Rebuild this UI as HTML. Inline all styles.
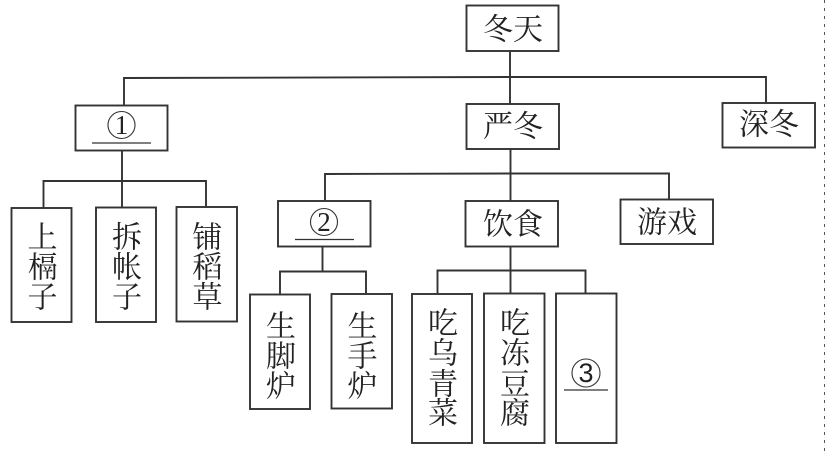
<!DOCTYPE html>
<html lang="zh">
<head>
<meta charset="utf-8">
<style>
html,body{margin:0;padding:0;background:#fff;width:832px;height:453px;overflow:hidden}
svg{display:block}
text{font-family:"Liberation Serif","Noto Serif CJK SC",serif;fill:#222;text-anchor:middle;dominant-baseline:central}
.c{font-size:30px;transform:translate(1px,0)}
.d{font-size:27px;font-family:"Liberation Sans",sans-serif;font-weight:400}
.b{fill:#fff;stroke:#333;stroke-width:1.9}
.l{fill:none;stroke:#333;stroke-width:1.9}
.u{stroke:#333;stroke-width:1.3}
.o{fill:none;stroke:#333;stroke-width:1.1}
</style>
</head>
<body>
<svg width="832" height="453" viewBox="0 0 832 453" xmlns="http://www.w3.org/2000/svg">
<rect width="832" height="453" fill="#fff"/>
<path class="l" d="M510 51V104M124 105V78L510 77H766V103"/>
<path class="l" d="M122 150V207M43.500 208V181H206V207"/>
<path class="l" d="M510.500 149V201M325 201V174L510 173.500H669V199"/>
<path class="l" d="M322.500 246V271M280 294V271.500H366V294"/>
<path class="l" d="M510.500 246V293M437.500 294V270.500H585.500V293"/>
<rect class="b" x="466.500" y="5.500" width="92" height="45.500"/>
<rect class="b" x="75.500" y="105.500" width="92" height="45"/>
<rect class="b" x="466.500" y="104" width="92.500" height="45"/>
<rect class="b" x="722.500" y="103" width="92.500" height="44.500"/>
<rect class="b" x="11.500" y="208" width="60" height="114"/>
<rect class="b" x="96" y="207.500" width="60" height="114.500"/>
<rect class="b" x="176.500" y="207" width="60.500" height="114.500"/>
<rect class="b" x="278" y="201" width="92.500" height="45.500"/>
<rect class="b" x="465.500" y="201" width="92.500" height="45.500"/>
<rect class="b" x="620.500" y="199.500" width="92.500" height="44.500"/>
<rect class="b" x="250" y="294.500" width="60" height="114.500"/>
<rect class="b" x="331.500" y="294" width="60.500" height="114.500"/>
<rect class="b" x="412" y="294" width="60" height="149"/>
<rect class="b" x="484" y="293.500" width="60.500" height="149.500"/>
<rect class="b" x="556" y="293.500" width="60.500" height="149.500"/>
<text class="c" x="497" y="30">冬</text><text class="c" x="527" y="30">天</text>
<text class="c" x="497" y="127">严</text><text class="c" x="527" y="127">冬</text>
<text class="c" x="753" y="125">深</text><text class="c" x="783" y="125">冬</text>
<text class="c" x="497" y="225">饮</text><text class="c" x="527" y="225">食</text>
<text class="c" x="651" y="223">游</text><text class="c" x="681" y="223">戏</text>
<text class="c" x="41.500" y="238">上</text><text class="c" x="41.500" y="268">槅</text><text class="c" x="41.500" y="298">子</text>
<text class="c" x="126" y="238">拆</text><text class="c" x="126" y="268">帐</text><text class="c" x="126" y="298">子</text>
<text class="c" x="206.500" y="238">铺</text><text class="c" x="206.500" y="268">稻</text><text class="c" x="206.500" y="298">草</text>
<text class="c" x="280" y="327">生</text><text class="c" x="280" y="357">脚</text><text class="c" x="280" y="387">炉</text>
<text class="c" x="361.500" y="327">生</text><text class="c" x="361.500" y="357">手</text><text class="c" x="361.500" y="387">炉</text>
<text class="c" x="442" y="324">吃</text><text class="c" x="442" y="354">乌</text><text class="c" x="442" y="385">青</text><text class="c" x="442" y="414">菜</text>
<text class="c" x="514" y="324">吃</text><text class="c" x="514" y="354">冻</text><text class="c" x="514" y="385">豆</text><text class="c" x="514" y="414">腐</text>
<circle class="o" cx="121.500" cy="125" r="13.500"/><text class="d" x="121.500" y="125" style="font-family:'Liberation Serif',serif">1</text>
<line class="u" x1="92" y1="143" x2="151" y2="143"/>
<circle class="o" cx="324" cy="222" r="13.500"/><text class="d" x="324" y="222" style="font-family:'Liberation Serif',serif">2</text>
<line class="u" x1="295" y1="239.500" x2="354" y2="239.500"/>
<circle class="o" cx="586" cy="373" r="14"/><text class="d" x="586" y="373">3</text>
<line class="u" x1="564" y1="390" x2="608" y2="390"/>
<line x1="824.500" y1="0" x2="824.500" y2="453" stroke="#555" stroke-width="1" stroke-dasharray="3 5"/>
</svg>
</body>
</html>
